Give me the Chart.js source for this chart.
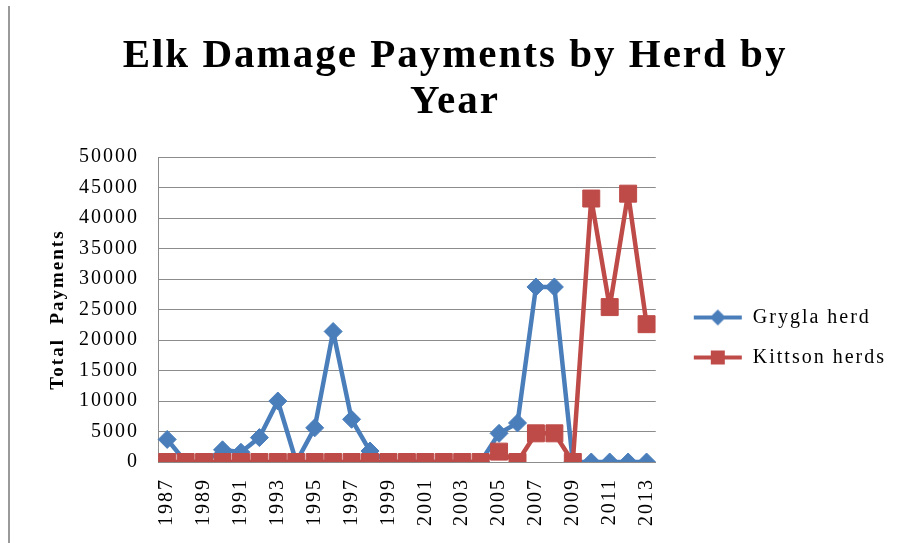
<!DOCTYPE html>
<html>
<head>
<meta charset="utf-8">
<title>Elk Damage Payments by Herd by Year</title>
<script src="https://cdn.jsdelivr.net/npm/chart.js@4"></script>
<style>
  html, body { margin: 0; padding: 0; background: #fff; }
  #wrap { position: relative; width: 897px; height: 543px; }
  #edge { position: absolute; left: 8px; top: 6px; width: 2px; height: 537px; background: #9a9a9a; }
</style>
</head>
<body>
<div id="wrap">
  <div id="edge"></div>
  <canvas id="chart" width="897" height="543"></canvas>
</div>
<script>
"use strict";

const YEARS = [
  "1987", "1988", "1989", "1990", "1991", "1992", "1993", "1994", "1995",
  "1996", "1997", "1998", "1999", "2000", "2001", "2002", "2003", "2004",
  "2005", "2006", "2007", "2008", "2009", "2010", "2011", "2012", "2013",
];

const GRYGLA = [
  3700, 0, 0, 2000, 1600, 4000, 10000, 0, 5600,
  21400, 7000, 1800, 0, 0, 0, 0, 0, 0,
  4700, 6400, 28700, 28700, 0, 0, 0, 0, 0,
];

const KITTSON = [
  0, 0, 0, 0, 0, 0, 0, 0, 0,
  0, 0, 0, 0, 0, 0, 0, 0, 0,
  1700, 0, 4700, 4700, 0, 43200, 25400, 44000, 22600,
];

const Y_TICKS = [0, 5000, 10000, 15000, 20000, 25000, 30000, 35000, 40000, 45000, 50000];

const BLUE = "#4a7ebb";
const RED = "#be4b48";
const GRID = "#8c8c8c";
const SERIF = "'Liberation Serif', 'Times New Roman', serif";

// small line + marker swatch for the legend, like Excel draws it
function swatch(color, style) {
  const c = document.createElement("canvas");
  c.width = 50;
  c.height = 20;
  const g = c.getContext("2d");
  g.strokeStyle = color;
  g.fillStyle = color;
  g.lineWidth = 4;
  g.beginPath();
  g.moveTo(1, 10);
  g.lineTo(49, 10);
  g.stroke();
  g.beginPath();
  if (style === "diamond") {
    g.moveTo(25, 2); g.lineTo(33, 10); g.lineTo(25, 18); g.lineTo(17, 10);
  } else {
    g.rect(18, 3, 14, 14);
  }
  g.closePath();
  g.fill();
  return c;
}

const legendIcons = [swatch(BLUE, "diamond"), swatch(RED, "square")];

// Excel renders this chart's text a little spread out
const spacing = {
  id: "spacing",
  beforeUpdate: (chart) => { chart.ctx.letterSpacing = "2px"; },
  beforeDraw: (chart) => { chart.ctx.letterSpacing = "2px"; },
};

// the original legend sits a bit right of the plot and below its middle
const legendNudge = {
  id: "legendNudge",
  afterLayout: (chart) => {
    const lg = chart.legend;
    const dx = chart.chartArea.right + 17 - lg.left;
    const dy = 58;
    lg.left += dx; lg.right += dx;
    lg.top += dy; lg.bottom += dy;
  },
};

new Chart(document.getElementById("chart"), {
  type: "line",
  plugins: [spacing, legendNudge],
  data: {
    labels: YEARS,
    datasets: [
      {
        label: "Grygla herd",
        data: GRYGLA,
        borderColor: BLUE,
        backgroundColor: BLUE,
        borderWidth: 4.5,
        borderJoinStyle: "round",
        pointStyle: "rectRot",
        pointRadius: 9,
        pointBorderWidth: 1,
        tension: 0,
        order: 1,
      },
      {
        label: "Kittson herds",
        data: KITTSON,
        borderColor: RED,
        backgroundColor: RED,
        borderWidth: 4.5,
        borderJoinStyle: "round",
        pointStyle: "rect",
        pointRadius: 12,
        pointBorderWidth: 1,
        tension: 0,
        order: 0,
      },
    ],
  },
  options: {
    responsive: false,
    animation: false,
    events: [],
    layout: { padding: { left: 31, right: 18, top: 33, bottom: 17 } },
    plugins: {
      title: {
        display: true,
        text: ["Elk Damage Payments by Herd by", "Year"],
        color: "#000",
        font: { family: SERIF, size: 41, weight: "bold", lineHeight: 1.135 },
        padding: { top: 0, bottom: 31 },
      },
      legend: {
        position: "right",
        maxWidth: 235,
        labels: {
          color: "#000",
          font: { family: SERIF, size: 20 },
          usePointStyle: true,
          pointStyleWidth: 50,
          padding: 20,
          generateLabels: (chart) => chart.data.datasets.map((ds, i) => ({
            text: ds.label,
            fontColor: "#000",
            pointStyle: legendIcons[i],
            datasetIndex: i,
            hidden: false,
            lineWidth: 0,
          })),
        },
      },
      tooltip: { enabled: false },
    },
    scales: {
      x: {
        type: "category",
        offset: true,
        grid: { display: false, drawTicks: false },
        border: { color: GRID, width: 1 },
        afterFit: (scale) => { scale.height = 64; },
        ticks: {
          autoSkip: false,
          minRotation: 90,
          maxRotation: 90,
          padding: 16,
          color: "#000",
          font: { family: SERIF, size: 20 },
          callback: (v, i) => (i % 2 === 0 ? YEARS[i] : ""),
        },
      },
      y: {
        min: 0,
        max: 50000,
        afterBuildTicks: (axis) => { axis.ticks = Y_TICKS.map((v) => ({ value: v })); },
        afterFit: (scale) => { scale.width = 127; },
        grid: { color: GRID, lineWidth: 1, drawTicks: false },
        border: { color: GRID, width: 1 },
        ticks: {
          padding: 19,
          color: "#000",
          font: { family: SERIF, size: 20 },
          callback: (v) => String(v),
        },
        title: {
          display: true,
          text: "Total  Payments",
          color: "#000",
          font: { family: SERIF, size: 19, weight: "bold" },
          padding: { top: 16, bottom: 0 },
        },
      },
    },
  },
});
</script>
</body>
</html>
